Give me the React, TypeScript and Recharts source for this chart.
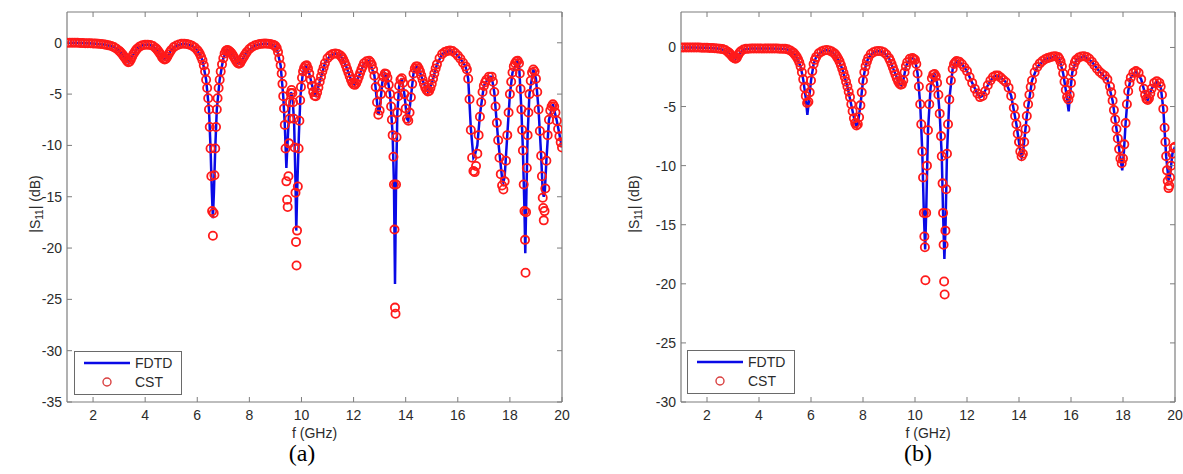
import React from 'react';
import { ComposedChart, Line, Scatter, XAxis, YAxis, Legend } from 'recharts';

// ---------- data (frequency in GHz, |S11| in dB) ----------
const xTicks = [2, 4, 6, 8, 10, 12, 14, 16, 18, 20];
const yTicksA = [-35, -30, -25, -20, -15, -10, -5, 0];
const yTicksB = [-30, -25, -20, -15, -10, -5, 0];
const seriesNames = ['FDTD', 'CST'];
const panelNames = ['(a)', '(b)'];

const cstA: [number, number][] = [
  [1.0, 0], [1.1, 0], [1.2, 0], [1.3, 0], [1.4, 0], [1.5, -0.02], [1.6, -0.03], [1.7, -0.04], [1.8, -0.05], [1.9, -0.05],
  [2.0, -0.06], [2.1, -0.08], [2.2, -0.1], [2.3, -0.12], [2.4, -0.15], [2.5, -0.2], [2.6, -0.25], [2.7, -0.32], [2.8, -0.42], [2.9, -0.58],
  [3.0, -0.78], [3.05, -0.9], [3.1, -1.05], [3.15, -1.2], [3.2, -1.38], [3.25, -1.56], [3.3, -1.75], [3.35, -1.9], [3.4, -1.85], [3.45, -1.62],
  [3.5, -1.35], [3.55, -1.1], [3.6, -0.9], [3.65, -0.7], [3.7, -0.55], [3.8, -0.35], [3.9, -0.23], [4.0, -0.18],
  [4.1, -0.18], [4.2, -0.22], [4.3, -0.32], [4.4, -0.5], [4.45, -0.63], [4.5, -0.8], [4.55, -0.98], [4.6, -1.16], [4.65, -1.4], [4.7, -1.55],
  [4.75, -1.62], [4.8, -1.55], [4.85, -1.36], [4.9, -1.12], [4.95, -0.9], [5.0, -0.7],
  [5.1, -0.42], [5.2, -0.26], [5.3, -0.16], [5.4, -0.1], [5.5, -0.1], [5.6, -0.12], [5.7, -0.18], [5.8, -0.28], [5.9, -0.45], [6.0, -0.7],
  [6.05, -0.88], [6.1, -1.1], [6.15, -1.38], [6.2, -1.7], [6.25, -2.2], [6.3, -2.8],
  [6.34, -3.6], [6.38, -4.4], [6.42, -5.4], [6.45, -6.5], [6.48, -8.2], [6.51, -10.3], [6.54, -13.0], [6.57, -16.4], [6.6, -18.8], [6.63, -16.6],
  [6.66, -12.9], [6.69, -10.3], [6.72, -8.2], [6.75, -6.5], [6.78, -5.4], [6.82, -4.4], [6.86, -3.6], [6.9, -2.8], [6.95, -2.1], [7.0, -1.5],
  [7.05, -1.05], [7.1, -0.78], [7.15, -0.7], [7.2, -0.75], [7.25, -0.85], [7.3, -0.98], [7.35, -1.15], [7.4, -1.36], [7.45, -1.58], [7.5, -1.8],
  [7.55, -1.97], [7.6, -2.05], [7.65, -1.96], [7.7, -1.72], [7.75, -1.5], [7.8, -1.3], [7.85, -1.1], [7.9, -0.9], [8.0, -0.6], [8.1, -0.4],
  [8.2, -0.26], [8.3, -0.18], [8.4, -0.12], [8.5, -0.1], [8.6, -0.08], [8.7, -0.1], [8.8, -0.12], [8.9, -0.18], [8.95, -0.24], [9.0, -0.32],
  [9.05, -0.5], [9.1, -0.9], [9.15, -1.5], [9.2, -2.2],
  [9.24, -3.0], [9.27, -4.0], [9.3, -5.2], [9.33, -6.4], [9.36, -8.0], [9.39, -10.3], [9.42, -13.5], [9.45, -15.3], [9.47, -16.0], [9.5, -13.0],
  [9.52, -9.8], [9.54, -7.4], [9.56, -5.8], [9.59, -4.9], [9.62, -4.6], [9.65, -4.9], [9.68, -5.8], [9.71, -7.4], [9.74, -10.2], [9.77, -14.6],
  [9.79, -19.4], [9.81, -21.7], [9.83, -18.3], [9.86, -14.0], [9.89, -10.3], [9.92, -7.6], [9.95, -5.6], [9.98, -4.3], [10.02, -3.4], [10.06, -2.8],
  [10.1, -2.45], [10.15, -2.25], [10.2, -2.2],
  [10.25, -2.5], [10.3, -3.0], [10.35, -3.6], [10.4, -4.2], [10.45, -4.8], [10.5, -5.15], [10.55, -5.2], [10.6, -4.85], [10.65, -4.35], [10.7, -3.8],
  [10.75, -3.3], [10.8, -2.8], [10.85, -2.4], [10.9, -2.0], [11.0, -1.5], [11.1, -1.25], [11.2, -1.1], [11.3, -1.05], [11.4, -1.1], [11.5, -1.25],
  [11.55, -1.4], [11.6, -1.6], [11.65, -1.88], [11.7, -2.2], [11.75, -2.55], [11.8, -2.9], [11.85, -3.25], [11.9, -3.6], [11.95, -3.9], [12.0, -4.05],
  [12.05, -4.1], [12.1, -3.95], [12.15, -3.65], [12.2, -3.3], [12.25, -2.95], [12.3, -2.6], [12.35, -2.3], [12.4, -2.0], [12.5, -1.8], [12.6, -1.75],
  [12.65, -1.9], [12.7, -2.15], [12.75, -2.6], [12.8, -3.2], [12.85, -4.3], [12.9, -5.8], [12.95, -7.0], [13.0, -6.6], [13.05, -5.0], [13.1, -3.9],
  [13.15, -3.3], [13.2, -3.0], [13.25, -3.05], [13.3, -3.4], [13.35, -4.1], [13.4, -5.0],
  [13.44, -6.2], [13.47, -7.5], [13.5, -9.0], [13.53, -11.1], [13.55, -13.8], [13.57, -18.2], [13.59, -25.8], [13.61, -26.4], [13.63, -13.8], [13.65, -9.2],
  [13.68, -6.8], [13.71, -5.2], [13.75, -4.2], [13.8, -3.6], [13.85, -3.45], [13.9, -3.9], [13.95, -5.0], [14.0, -6.4], [14.05, -7.4], [14.1, -7.6],
  [14.15, -6.8], [14.2, -5.3], [14.25, -4.0], [14.3, -3.0], [14.35, -2.5], [14.4, -2.3], [14.45, -2.3], [14.5, -2.5], [14.55, -2.8], [14.6, -3.2],
  [14.65, -3.6], [14.7, -4.0], [14.75, -4.35], [14.8, -4.6], [14.85, -4.75], [14.9, -4.7], [14.95, -4.4], [15.0, -4.0], [15.05, -3.5], [15.1, -3.0],
  [15.15, -2.5], [15.2, -2.1], [15.3, -1.5], [15.4, -1.1], [15.5, -0.9], [15.6, -0.8], [15.7, -0.75], [15.8, -0.8], [15.9, -1.0], [16.0, -1.25],
  [16.1, -1.55], [16.2, -1.95], [16.3, -2.3], [16.35, -2.6],
  [16.4, -3.5], [16.45, -5.5], [16.5, -8.5], [16.55, -11.2], [16.6, -12.5], [16.65, -12.6], [16.7, -12.0], [16.75, -10.8], [16.8, -9.0], [16.85, -7.2],
  [16.9, -5.8], [16.95, -4.8], [17.0, -4.2], [17.05, -3.85], [17.1, -3.6], [17.2, -3.3], [17.3, -3.3], [17.35, -3.8], [17.4, -4.8], [17.45, -6.2],
  [17.5, -7.8], [17.55, -9.5], [17.6, -11.2], [17.65, -12.8], [17.7, -13.9], [17.75, -14.3], [17.8, -13.5], [17.85, -11.5], [17.9, -9.0], [17.95, -6.8],
  [18.0, -5.0], [18.05, -3.8], [18.1, -2.9], [18.15, -2.3], [18.2, -2.0], [18.25, -1.8], [18.3, -1.75], [18.35, -2.0], [18.38, -3.0], [18.41, -4.5],
  [18.44, -6.5], [18.47, -8.5], [18.5, -10.5], [18.53, -13.8], [18.56, -16.4], [18.58, -19.2], [18.6, -22.4], [18.62, -16.5], [18.65, -12.2], [18.68, -9.0],
  [18.71, -6.8], [18.75, -5.0], [18.8, -3.7], [18.85, -2.9], [18.9, -2.6], [18.95, -2.8], [19.0, -3.5], [19.05, -4.8], [19.1, -6.5], [19.15, -8.6],
  [19.2, -11.0], [19.23, -13.0], [19.26, -15.1], [19.28, -16.1], [19.3, -17.3], [19.33, -16.4], [19.36, -14.2], [19.4, -11.5], [19.45, -9.0], [19.5, -7.5],
  [19.55, -6.6], [19.6, -6.2], [19.65, -6.0], [19.7, -6.2], [19.75, -6.8], [19.8, -7.6], [19.85, -8.4], [19.9, -9.1], [19.95, -9.7], [20.0, -10.2],
];

const fdtdA: [number, number][] = [
  [1.0, 0], [1.5, -0.02], [2.0, -0.06], [2.5, -0.2], [2.8, -0.42], [3.0, -0.78], [3.2, -1.38], [3.35, -1.9], [3.5, -1.35], [3.7, -0.55],
  [3.9, -0.23], [4.1, -0.18], [4.3, -0.32], [4.5, -0.8], [4.65, -1.4], [4.75, -1.62], [4.85, -1.36], [5.0, -0.7], [5.2, -0.26], [5.5, -0.1],
  [5.8, -0.28], [6.0, -0.7], [6.2, -1.7], [6.34, -3.6], [6.45, -6.5], [6.51, -10.3], [6.56, -14.5], [6.6, -17.1], [6.64, -14.5], [6.69, -10.3],
  [6.75, -6.5], [6.86, -3.6], [7.0, -1.5], [7.15, -0.7], [7.3, -0.98], [7.5, -1.8], [7.6, -2.05], [7.7, -1.72], [7.9, -0.9], [8.2, -0.26],
  [8.6, -0.08], [8.9, -0.18], [9.05, -0.5], [9.2, -2.2], [9.3, -5.2], [9.36, -8.0], [9.42, -12.2], [9.48, -9.0], [9.54, -6.0], [9.6, -4.8],
  [9.66, -5.3], [9.72, -8.0], [9.77, -13.5], [9.8, -18.3], [9.84, -14.0], [9.9, -9.0], [9.96, -5.2], [10.05, -3.0], [10.15, -2.25], [10.3, -3.0],
  [10.5, -5.15], [10.55, -5.2], [10.7, -3.8], [10.9, -2.0], [11.1, -1.25], [11.3, -1.05], [11.5, -1.25], [11.7, -2.2], [11.9, -3.6], [12.05, -4.1],
  [12.2, -3.3], [12.4, -2.0], [12.6, -1.75], [12.8, -3.2], [12.9, -5.8], [12.95, -7.0], [13.0, -6.6], [13.1, -3.9], [13.2, -3.0], [13.3, -3.4],
  [13.4, -5.0], [13.5, -9.0], [13.55, -13.8], [13.59, -23.5], [13.63, -13.8], [13.68, -6.8], [13.75, -4.2], [13.85, -3.45], [13.95, -5.0], [14.05, -7.4],
  [14.1, -7.6], [14.2, -5.3], [14.3, -3.0], [14.4, -2.3], [14.5, -2.5], [14.7, -4.0], [14.85, -4.75], [15.0, -4.0], [15.2, -2.1], [15.4, -1.1],
  [15.7, -0.75], [15.9, -1.0], [16.1, -1.55], [16.3, -2.3], [16.4, -3.5], [16.5, -8.3], [16.6, -11.2], [16.65, -11.0], [16.75, -10.0], [16.85, -7.0],
  [17.0, -4.2], [17.2, -3.3], [17.3, -3.3], [17.4, -4.8], [17.55, -9.5], [17.7, -13.2], [17.75, -13.6], [17.8, -13.0], [17.9, -9.0], [18.0, -5.0],
  [18.1, -2.9], [18.3, -1.75], [18.35, -2.0], [18.44, -6.5], [18.5, -10.5], [18.56, -16.4], [18.59, -20.5], [18.62, -16.5], [18.68, -9.0], [18.75, -5.0],
  [18.9, -2.6], [19.0, -3.5], [19.1, -6.5], [19.2, -11.0], [19.26, -14.5], [19.3, -15.0], [19.34, -14.5], [19.4, -11.5], [19.5, -7.5], [19.65, -6.0],
  [19.8, -7.6], [20.0, -10.2],
];

const cstB: [number, number][] = [
  [1.0, 0], [1.1, 0], [1.2, 0], [1.3, 0], [1.4, 0], [1.5, 0], [1.6, 0], [1.7, -0.01], [1.8, -0.02], [1.9, -0.02],
  [2.0, -0.03], [2.1, -0.04], [2.2, -0.05], [2.3, -0.06], [2.4, -0.08], [2.5, -0.1], [2.6, -0.14], [2.7, -0.22], [2.8, -0.36], [2.85, -0.46],
  [2.9, -0.58], [2.95, -0.7], [3.0, -0.82], [3.05, -0.92], [3.1, -0.96], [3.15, -0.86], [3.2, -0.64], [3.25, -0.45], [3.3, -0.32], [3.4, -0.18],
  [3.5, -0.12], [3.6, -0.1], [3.7, -0.08], [3.8, -0.08], [3.9, -0.08], [4.0, -0.08], [4.1, -0.08], [4.2, -0.08], [4.3, -0.08], [4.4, -0.08],
  [4.5, -0.08], [4.6, -0.08], [4.7, -0.09], [4.8, -0.1], [4.9, -0.1], [5.0, -0.12], [5.1, -0.16], [5.2, -0.25], [5.3, -0.4], [5.35, -0.5],
  [5.4, -0.65], [5.45, -0.8], [5.5, -1.0], [5.55, -1.25], [5.6, -1.6], [5.65, -2.1], [5.7, -2.7], [5.75, -3.4], [5.8, -4.1], [5.85, -4.7],
  [5.9, -4.6], [5.95, -3.8], [6.0, -2.8], [6.05, -2.0], [6.1, -1.4], [6.15, -1.05], [6.2, -0.8], [6.3, -0.5], [6.4, -0.35], [6.5, -0.25],
  [6.6, -0.22], [6.7, -0.25], [6.8, -0.35], [6.9, -0.5], [6.95, -0.62], [7.0, -0.8], [7.05, -0.98], [7.1, -1.2], [7.15, -1.48], [7.2, -1.8],
  [7.25, -2.15], [7.3, -2.5], [7.35, -2.9], [7.4, -3.3], [7.45, -3.75], [7.5, -4.2], [7.55, -4.8], [7.6, -5.4], [7.65, -6.0], [7.7, -6.4],
  [7.75, -6.6], [7.8, -6.5], [7.85, -5.9], [7.9, -4.9], [7.95, -3.8], [8.0, -2.8], [8.05, -2.1], [8.1, -1.6], [8.15, -1.2], [8.2, -0.9],
  [8.3, -0.55], [8.4, -0.4], [8.5, -0.32], [8.6, -0.3], [8.7, -0.32], [8.8, -0.4], [8.9, -0.6], [9.0, -0.9], [9.05, -1.12], [9.1, -1.4],
  [9.15, -1.7], [9.2, -2.0], [9.25, -2.3], [9.3, -2.6], [9.35, -2.85], [9.4, -3.05], [9.45, -3.15], [9.5, -3.1], [9.55, -2.8], [9.6, -2.1],
  [9.65, -1.6], [9.7, -1.25], [9.8, -0.95], [9.9, -0.9], [9.95, -0.95], [10.0, -1.05], [10.05, -1.4], [10.1, -2.2], [10.15, -3.3], [10.2, -4.8],
  [10.24, -6.5], [10.28, -8.8], [10.31, -11.0], [10.34, -14.0], [10.36, -16.0], [10.38, -16.9], [10.4, -19.7], [10.43, -14.0], [10.46, -10.0], [10.5, -7.0],
  [10.55, -4.8], [10.6, -3.4], [10.65, -2.6], [10.7, -2.3], [10.75, -2.25], [10.8, -2.45], [10.85, -3.0], [10.9, -4.0], [10.95, -5.6], [11.0, -7.5],
  [11.03, -9.2], [11.06, -11.5], [11.08, -14.0], [11.1, -16.7], [11.12, -19.8], [11.14, -20.9], [11.17, -15.5], [11.2, -12.0], [11.23, -9.0], [11.27, -6.5],
  [11.32, -4.4], [11.38, -2.8], [11.45, -1.8], [11.5, -1.4], [11.55, -1.25], [11.6, -1.15], [11.7, -1.2], [11.8, -1.4], [11.9, -1.7], [12.0, -2.0],
  [12.1, -2.5], [12.2, -3.0], [12.3, -3.5], [12.4, -3.9], [12.5, -4.2], [12.6, -4.1], [12.7, -3.7], [12.8, -3.2], [12.9, -2.8], [13.0, -2.5],
  [13.1, -2.38], [13.2, -2.38], [13.3, -2.55], [13.4, -2.75], [13.5, -2.95], [13.6, -3.4], [13.7, -4.1], [13.8, -5.1], [13.85, -5.8], [13.9, -6.5],
  [13.95, -7.3], [14.0, -8.0], [14.05, -8.8], [14.1, -9.2], [14.15, -9.0], [14.2, -8.0], [14.25, -6.9], [14.3, -5.8], [14.35, -4.8], [14.4, -4.0],
  [14.45, -3.35], [14.5, -2.8], [14.6, -2.1], [14.7, -1.65], [14.8, -1.35], [14.9, -1.15], [15.0, -1.0], [15.1, -0.9], [15.2, -0.82], [15.3, -0.76],
  [15.4, -0.74], [15.5, -0.8], [15.55, -0.95], [15.6, -1.2], [15.65, -1.6], [15.7, -2.2], [15.75, -2.9], [15.8, -3.6], [15.85, -4.2], [15.9, -4.4],
  [15.95, -4.0], [16.0, -3.0], [16.05, -2.1], [16.1, -1.6], [16.15, -1.25], [16.2, -1.05], [16.3, -0.85], [16.4, -0.76], [16.5, -0.74], [16.6, -0.8],
  [16.7, -0.95], [16.8, -1.2], [16.9, -1.5], [17.0, -1.8], [17.1, -2.05], [17.2, -2.25], [17.3, -2.4], [17.4, -2.7], [17.5, -3.3], [17.55, -3.8],
  [17.6, -4.5], [17.65, -5.3], [17.7, -6.1], [17.75, -6.9], [17.8, -7.7], [17.85, -8.6], [17.9, -9.4], [17.95, -9.8], [18.0, -9.4], [18.05, -8.2],
  [18.1, -6.4], [18.15, -4.8], [18.2, -3.7], [18.25, -3.0], [18.3, -2.55], [18.4, -2.15], [18.5, -2.0], [18.6, -2.15], [18.7, -2.7], [18.8, -3.5],
  [18.85, -4.0], [18.9, -4.35], [18.95, -4.45], [19.0, -4.3], [19.05, -3.9], [19.1, -3.5], [19.2, -3.0], [19.3, -2.85], [19.4, -3.0], [19.45, -3.3],
  [19.5, -4.0], [19.55, -5.2], [19.6, -6.8], [19.63, -8.0], [19.66, -9.2], [19.69, -10.4], [19.72, -11.3], [19.75, -11.9], [19.78, -11.7], [19.81, -11.0],
  [19.85, -10.0], [19.9, -9.0], [19.95, -8.5], [20.0, -8.4],
];

const fdtdB: [number, number][] = [
  [1.0, 0], [1.5, 0], [2.0, -0.03], [2.5, -0.1], [2.8, -0.36], [3.0, -0.82], [3.1, -0.96], [3.2, -0.64], [3.4, -0.18], [3.7, -0.08],
  [4.5, -0.08], [5.0, -0.12], [5.2, -0.25], [5.4, -0.65], [5.6, -1.6], [5.7, -2.7], [5.8, -4.3], [5.86, -5.7], [5.92, -4.5], [6.0, -2.8],
  [6.1, -1.4], [6.2, -0.8], [6.4, -0.35], [6.6, -0.22], [6.8, -0.35], [7.0, -0.8], [7.2, -1.8], [7.4, -3.3], [7.6, -5.4], [7.7, -6.4],
  [7.76, -6.7], [7.8, -6.5], [7.9, -4.9], [8.0, -2.8], [8.1, -1.6], [8.2, -0.9], [8.4, -0.4], [8.6, -0.3], [8.8, -0.4], [9.0, -0.9],
  [9.2, -2.0], [9.4, -3.05], [9.47, -3.2], [9.55, -2.8], [9.65, -1.6], [9.8, -0.95], [9.9, -0.9], [10.0, -1.05], [10.1, -2.2], [10.2, -4.8],
  [10.28, -8.8], [10.34, -14.0], [10.39, -17.1], [10.43, -14.0], [10.5, -7.0], [10.6, -3.4], [10.7, -2.3], [10.75, -2.25], [10.85, -3.0], [10.95, -5.6],
  [11.03, -9.2], [11.08, -14.0], [11.13, -17.9], [11.17, -15.5], [11.23, -9.0], [11.32, -4.4], [11.45, -1.8], [11.6, -1.15], [11.8, -1.4], [12.0, -2.0],
  [12.2, -3.0], [12.4, -3.9], [12.5, -4.2], [12.6, -4.1], [12.8, -3.2], [13.0, -2.5], [13.15, -2.38], [13.3, -2.55], [13.5, -2.95], [13.7, -4.1],
  [13.9, -6.5], [14.05, -8.8], [14.1, -9.3], [14.15, -9.0], [14.3, -5.8], [14.5, -2.8], [14.7, -1.65], [15.0, -1.0], [15.4, -0.74], [15.55, -0.95],
  [15.7, -2.2], [15.8, -3.6], [15.91, -5.4], [15.97, -3.8], [16.05, -2.1], [16.2, -1.05], [16.5, -0.74], [16.8, -1.2], [17.1, -2.05], [17.4, -2.7],
  [17.6, -4.5], [17.8, -7.7], [17.9, -9.4], [17.97, -10.4], [18.03, -9.0], [18.1, -6.4], [18.2, -3.7], [18.3, -2.55], [18.5, -2.0], [18.7, -2.7],
  [18.9, -4.35], [18.95, -4.45], [19.1, -3.5], [19.3, -2.85], [19.45, -3.3], [19.55, -5.2], [19.66, -9.2], [19.75, -11.2], [19.8, -11.0], [19.9, -9.0],
  [20.0, -8.4],
];

// ---------- styling ----------
const SANS = '"Liberation Sans", Arial, Helvetica, sans-serif';
const SERIF = '"Liberation Serif", "Times New Roman", serif';
const AXIS_COLOR = '#7d7d7d';
const TEXT_COLOR = '#2b2b2b';
const LINE_BLUE = '#0a0ae6';
const RING_RED = '#ff1a1a';

const toPoints = (arr: [number, number][]) => arr.map(([f, v]) => ({ f, v }));

const Ring = (props: any) => {
  const { cx, cy } = props;
  if (cx == null || cy == null) return null;
  return <circle cx={cx} cy={cy} r={4.1} fill="none" stroke={RING_RED} strokeWidth={1.8} />;
};

const makeYLabel = (cxAbs: number) => (props: any) => {
  const vb = props.viewBox || {};
  const cy = (vb.y ?? 12) + (vb.height ?? 390) / 2 - 3;
  const cx = cxAbs;
  return (
    <text
      x={cx}
      y={cy}
      transform={`rotate(-90, ${cx}, ${cy})`}
      textAnchor="middle"
      dominantBaseline="central"
      fontFamily={SANS}
      fontSize={14}
      fill={TEXT_COLOR}
    >
      |S<tspan fontSize={10} dy={4}>11</tspan>
      <tspan dy={-4}>| (dB)</tspan>
    </text>
  );
};

const LegendBox = () => (
  <div
    style={{
      width: 108,
      height: 44,
      boxSizing: 'border-box',
      border: '1px solid #6a6a6a',
      background: '#fff',
    }}
  >
    <svg width={106} height={42} style={{ display: 'block' }}>
      <line x1={9} y1={11} x2={55} y2={11} stroke={LINE_BLUE} strokeWidth={2.5} />
      <text x={60} y={11} dominantBaseline="central" fontFamily={SANS} fontSize={14} fill={TEXT_COLOR}>
        {seriesNames[0]}
      </text>
      <circle cx={32} cy={30} r={4} fill="none" stroke="#d94040" strokeWidth={1.4} />
      <text x={60} y={30} dominantBaseline="central" fontFamily={SANS} fontSize={14} fill={TEXT_COLOR}>
        {seriesNames[1]}
      </text>
    </svg>
  </div>
);

type PanelProps = {
  cst: [number, number][];
  fdtd: [number, number][];
  yMin: number;
  yTicks: number[];
  width: number;
  marginLeft: number;
  marginRight: number;
  labelCx: number;
  legendLeft: number;
  legendTop: number;
};

const Panel = ({ cst, fdtd, yMin, yTicks, width, marginLeft, marginRight, labelCx, legendLeft, legendTop }: PanelProps) => {
  const yDomain: [number, number] = [yMin, 3];
  const tickStyle = { fontFamily: SANS, fontSize: 14, fill: TEXT_COLOR };
  return (
    <ComposedChart
      width={width}
      height={474}
      margin={{ top: 11, right: marginRight, bottom: 32, left: marginLeft }}
    >
      <XAxis
        xAxisId="bottom"
        dataKey="f"
        type="number"
        domain={[1, 20]}
        allowDataOverflow
        ticks={xTicks}
        orientation="bottom"
        height={40}
        tickSize={-5}
        tickMargin={13}
        tick={tickStyle}
        axisLine={{ stroke: AXIS_COLOR, strokeWidth: 1.2 }}
        tickLine={{ stroke: AXIS_COLOR }}
        label={{ value: 'f (GHz)', position: 'insideBottom', offset: 4, fontFamily: SANS, fontSize: 14, fill: TEXT_COLOR }}
      />
      <XAxis
        xAxisId="top"
        dataKey="f"
        type="number"
        domain={[1, 20]}
        allowDataOverflow
        ticks={xTicks}
        orientation="top"
        height={1}
        tickSize={-5}
        tickFormatter={() => ''}
        axisLine={{ stroke: AXIS_COLOR, strokeWidth: 1.2 }}
        tickLine={{ stroke: AXIS_COLOR }}
      />
      <YAxis
        yAxisId="left"
        type="number"
        domain={yDomain}
        allowDataOverflow
        ticks={yTicks}
        width={67}
        tickSize={-5}
        tickMargin={10}
        tick={tickStyle}
        axisLine={{ stroke: AXIS_COLOR, strokeWidth: 1.2 }}
        tickLine={{ stroke: AXIS_COLOR }}
        label={makeYLabel(labelCx)}
      />
      <YAxis
        yAxisId="right"
        orientation="right"
        type="number"
        domain={yDomain}
        allowDataOverflow
        ticks={yTicks}
        width={1}
        tickSize={-5}
        tickFormatter={() => ''}
        axisLine={{ stroke: AXIS_COLOR, strokeWidth: 1.2 }}
        tickLine={{ stroke: AXIS_COLOR }}
      />
      <Line
        xAxisId="bottom"
        yAxisId="left"
        data={toPoints(fdtd)}
        dataKey="v"
        name={seriesNames[0]}
        type="linear"
        stroke={LINE_BLUE}
        strokeWidth={2.5}
        dot={false}
        activeDot={false}
        isAnimationActive={false}
      />
      <Scatter
        xAxisId="bottom"
        yAxisId="left"
        data={toPoints(cst)}
        dataKey="v"
        name={seriesNames[1]}
        shape={<Ring />}
        isAnimationActive={false}
      />
      <Legend
        layout="vertical"
        align="center"
        verticalAlign="middle"
        content={() => <LegendBox />}
        wrapperStyle={{ left: legendLeft, top: legendTop, width: 108, height: 44 }}
      />
    </ComposedChart>
  );
};

export default function App() {
  return (
    <div style={{ position: 'absolute', left: 0, top: 0, width: 1183, height: 474, background: '#fff', overflow: 'hidden' }}>
      <div style={{ position: 'absolute', left: 0, top: 0 }}>
        <Panel
          cst={cstA}
          fdtd={fdtdA}
          yMin={-35}
          yTicks={yTicksA}
          width={580}
          marginLeft={0}
          marginRight={17}
          labelCx={35}
          legendLeft={74}
          legendTop={351}
        />
      </div>
      <div style={{ position: 'absolute', left: 600, top: 0 }}>
        <Panel
          cst={cstB}
          fdtd={fdtdB}
          yMin={-30}
          yTicks={yTicksB}
          width={583}
          marginLeft={14}
          marginRight={7}
          labelCx={34}
          legendLeft={87}
          legendTop={350}
        />
      </div>
      <div style={{ position: 'absolute', left: 252, top: 441, width: 100, textAlign: 'center', fontFamily: SERIF, fontSize: 24, lineHeight: '24px', color: '#000' }}>
        {panelNames[0]}
      </div>
      <div style={{ position: 'absolute', left: 868, top: 441, width: 100, textAlign: 'center', fontFamily: SERIF, fontSize: 24, lineHeight: '24px', color: '#000' }}>
        {panelNames[1]}
      </div>
    </div>
  );
}
